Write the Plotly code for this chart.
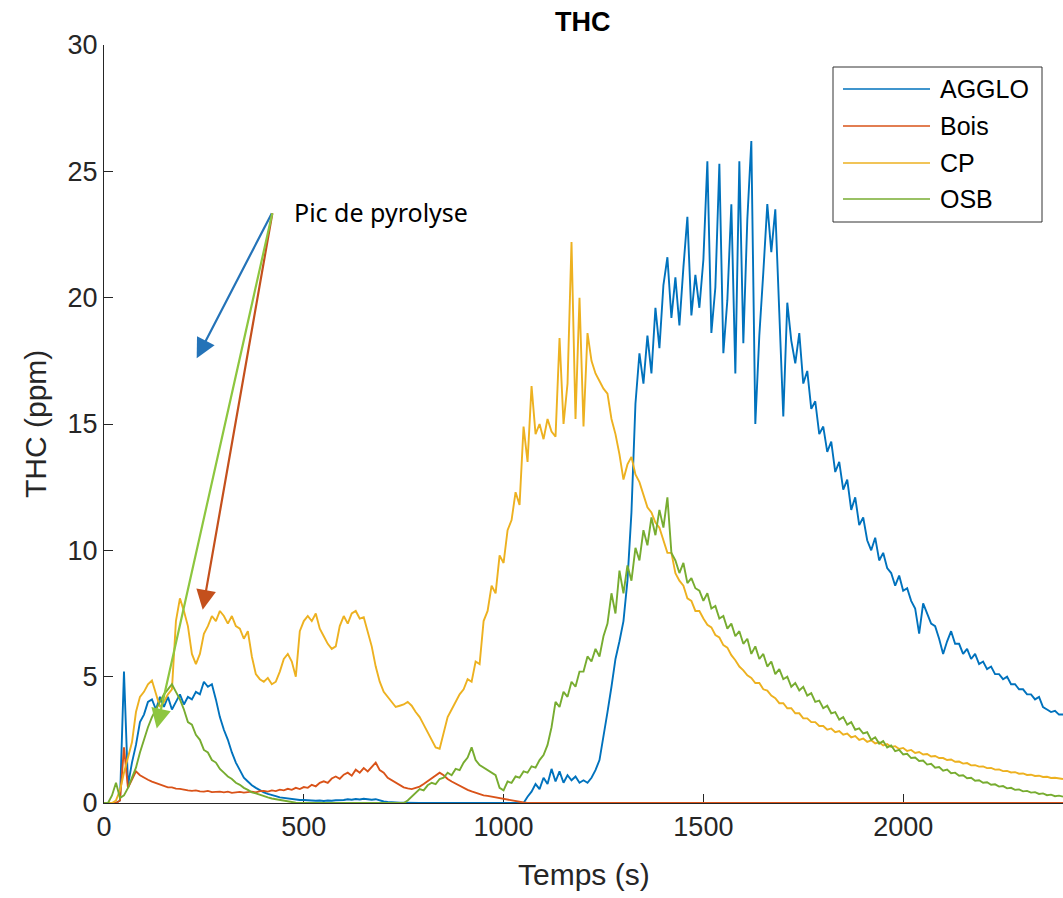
import plotly.graph_objects as go

# Time axis (s), one sample every 10 s
temps = list(range(0, 2401, 10))

agglo = [
    0, 0, 0, 0, 0.1, 5.2, 0.7, 1.6, 2.3, 3.2,
    3.5, 4.0, 4.1, 3.7, 4.2, 3.8, 4.2, 3.7, 4.0, 4.3,
    3.9, 4.2, 4.1, 4.4, 4.3, 4.8, 4.6, 4.7, 4.1, 3.4,
    2.9, 2.5, 2.0, 1.6, 1.3, 1.0, 0.85, 0.7, 0.6, 0.5,
    0.42, 0.36, 0.3, 0.27, 0.22, 0.2, 0.17, 0.15, 0.14, 0.12,
    0.12, 0.1, 0.11, 0.09, 0.1, 0.08, 0.1, 0.09, 0.11, 0.1,
    0.12, 0.15, 0.13, 0.16, 0.14, 0.17, 0.15, 0.13, 0.15, 0.1,
    0.06, 0.04, 0.02, 0.02, 0.01, 0.01, 0, 0, 0, 0,
    0, 0, 0, 0, 0, 0, 0, 0, 0, 0,
    0, 0, 0, 0, 0, 0, 0, 0, 0, 0,
    0, 0, 0, 0, 0, 0, 0.25, 0.45, 0.75, 0.55,
    1.0, 0.75, 1.35, 0.85, 1.25, 0.8, 1.1, 0.9, 1.05, 0.8,
    0.9, 0.8, 1.0, 1.3, 1.7, 2.6, 3.6, 4.6, 5.7, 6.4,
    7.2, 8.8, 11.5, 15.8, 17.8, 16.6, 18.5, 17.0, 19.6, 18.0,
    20.5, 21.6, 19.2, 20.8, 18.9, 21.2, 23.2, 19.3, 20.9, 19.6,
    21.5, 25.4, 18.6, 20.4, 25.3, 17.8, 19.9, 23.7, 17.0, 25.4,
    18.2, 23.1, 26.2, 15.0, 18.5, 21.0, 23.7, 21.8, 23.5, 19.4,
    15.3, 19.8, 18.3, 17.4, 18.6, 16.6, 17.1, 15.6, 15.9, 14.6,
    14.9, 13.9, 14.3, 13.1, 13.5, 12.4, 12.8, 11.6, 12.1, 11.0,
    11.3, 10.4, 10.0, 10.5, 9.6, 9.9, 9.3, 9.1, 8.6, 9.0,
    8.4, 8.5, 8.0, 7.7, 6.7, 7.9, 7.5, 7.1, 7.0, 6.5,
    5.9, 6.4, 6.8, 6.3, 6.3, 5.9, 6.1, 5.7, 5.9, 5.5,
    5.6, 5.3, 5.4, 5.1, 5.1, 4.9, 5.0, 4.7, 4.7, 4.5,
    4.5, 4.3, 4.3, 4.1, 4.2, 3.8, 3.7, 3.6, 3.65, 3.5,
    3.5,
]

bois = [
    0, 0, 0, 0, 0.1, 2.2, 0.6, 0.9, 1.25, 1.1,
    1.0, 0.92, 0.85, 0.8, 0.72, 0.7, 0.62, 0.62, 0.57, 0.56,
    0.52, 0.5, 0.48, 0.5, 0.46, 0.45, 0.48, 0.43, 0.44, 0.45,
    0.42, 0.45, 0.4, 0.43, 0.44, 0.41, 0.44, 0.45, 0.42, 0.47,
    0.48, 0.45, 0.5, 0.47, 0.53, 0.5, 0.56, 0.52, 0.6, 0.55,
    0.63, 0.6, 0.72, 0.66, 0.8, 0.86, 0.8, 0.97, 1.05, 0.96,
    1.12, 1.2, 1.08, 1.32, 1.2, 1.38, 1.25, 1.42, 1.6, 1.3,
    1.2, 1.0, 0.9, 0.8, 0.7, 0.62, 0.58, 0.55, 0.6, 0.65,
    0.75, 0.86, 1.0, 1.1, 1.2, 1.1, 0.95, 0.85, 0.76, 0.7,
    0.6, 0.52, 0.46, 0.4, 0.35, 0.3, 0.28, 0.25, 0.2, 0.2,
    0.15, 0.12, 0.1, 0.08, 0.05, 0.02, 0, 0, 0, 0,
    0, 0, 0, 0, 0, 0, 0, 0, 0, 0,
    0, 0, 0, 0, 0, 0, 0, 0, 0, 0,
    0, 0, 0, 0, 0, 0, 0, 0, 0, 0,
    0, 0, 0, 0, 0, 0, 0, 0, 0, 0,
    0, 0, 0, 0, 0, 0, 0, 0, 0, 0,
    0, 0, 0, 0, 0, 0, 0, 0, 0, 0,
    0, 0, 0, 0, 0, 0, 0, 0, 0, 0,
    0, 0, 0, 0, 0, 0, 0, 0, 0, 0,
    0, 0, 0, 0, 0, 0, 0, 0, 0, 0,
    0, 0, 0, 0, 0, 0, 0, 0, 0, 0,
    0, 0, 0, 0, 0, 0, 0, 0, 0, 0,
    0, 0, 0, 0, 0, 0, 0, 0, 0, 0,
    0, 0, 0, 0, 0, 0, 0, 0, 0, 0,
    0,
]

cp = [
    0, 0, 0, 0.1, 0.5, 1.2, 1.8, 2.4, 3.6, 4.2,
    4.4, 4.7, 4.85, 4.3, 3.8, 4.0, 4.3, 4.5, 7.2, 8.1,
    7.6, 7.0, 5.9, 5.5, 5.9, 6.7, 7.0, 7.4, 7.2, 7.6,
    7.4, 7.1, 7.4, 7.0, 6.9, 6.5, 6.8, 5.8, 5.1, 4.9,
    4.8, 4.95, 4.7, 4.8, 5.2, 5.7, 5.9, 5.6, 5.0, 6.8,
    7.2, 7.4, 7.2, 7.5, 6.9, 6.6, 6.3, 6.1, 6.2, 7.0,
    7.4, 7.1, 7.5, 7.6, 7.3, 7.35, 6.8, 6.2, 5.4, 4.8,
    4.4, 4.2, 4.0, 3.8, 3.85, 3.9, 4.0, 3.85, 3.6, 3.4,
    3.1, 2.8, 2.5, 2.2, 2.15, 2.8, 3.4, 3.7, 4.0, 4.3,
    4.5, 4.9, 4.8, 5.6, 5.5, 7.2, 7.6, 8.6, 8.3, 9.8,
    9.5, 10.8, 11.2, 12.3, 11.8, 14.9, 13.5, 16.5, 14.6, 15.0,
    14.4, 15.2, 14.7, 14.5, 18.4, 15.0, 16.6, 22.2, 15.2, 20.0,
    14.9, 18.6, 17.5, 17.0, 16.7, 16.4, 16.2, 15.2, 14.6, 13.8,
    12.8, 13.4, 13.7, 13.0, 12.7, 12.2, 11.7, 11.5, 11.1, 10.9,
    10.4, 9.9, 9.9, 9.1, 8.8, 8.6, 8.1, 8.0, 7.6, 7.6,
    7.3, 7.05, 6.95, 6.65, 6.55, 6.25, 6.15, 5.85, 5.65, 5.4,
    5.25, 5.05, 4.95, 4.75, 4.75, 4.5, 4.45, 4.25, 4.15, 3.95,
    3.95, 3.75, 3.75, 3.55, 3.55, 3.35, 3.35, 3.2, 3.2, 3.05,
    3.05, 2.9, 2.95, 2.8, 2.85, 2.7, 2.75, 2.6, 2.65, 2.5,
    2.55, 2.42, 2.48, 2.36, 2.4, 2.28, 2.33, 2.22, 2.25, 2.14,
    2.18, 2.06, 2.1, 1.98, 2.02, 1.92, 1.94, 1.84, 1.86, 1.78,
    1.78, 1.7, 1.72, 1.63, 1.64, 1.56, 1.58, 1.49, 1.5, 1.44,
    1.45, 1.38, 1.39, 1.32, 1.33, 1.26, 1.27, 1.21, 1.22, 1.16,
    1.17, 1.11, 1.12, 1.07, 1.08, 1.03, 1.04, 0.99, 1.0, 0.96,
    0.95,
]

osb = [
    0, 0, 0.3, 0.8, 0.2, 0.3, 0.6, 1.0, 1.4, 2.0,
    2.5, 3.0, 3.4, 3.7, 4.0, 4.3, 4.5, 4.7, 4.4, 4.1,
    3.7, 3.2, 3.1, 2.7, 2.5, 2.1, 2.0, 1.7, 1.6, 1.35,
    1.2, 1.05, 0.95, 0.8, 0.72, 0.6, 0.52, 0.42, 0.38, 0.32,
    0.27, 0.22, 0.18, 0.15, 0.12, 0.08, 0.05, 0.03, 0.01, 0,
    0, 0, 0, 0, 0, 0, 0, 0, 0, 0,
    0, 0, 0, 0, 0, 0, 0, 0, 0, 0,
    0, 0, 0, 0, 0, 0, 0.1, 0.25, 0.4, 0.55,
    0.5, 0.7, 0.8, 0.75, 0.95, 1.0, 1.2, 1.1, 1.35, 1.3,
    1.6, 1.8, 2.2, 1.7, 1.5, 1.4, 1.3, 1.2, 1.1, 0.6,
    0.5, 0.85, 0.8, 1.05, 1.0, 1.25, 1.2, 1.45, 1.4, 1.7,
    1.9, 2.3, 3.0, 4.0, 3.8, 4.4, 4.2, 4.8, 4.6, 5.2,
    5.2, 5.8, 5.6, 6.1, 5.8, 6.6, 7.1, 8.3, 7.5, 9.2,
    8.3, 9.4, 8.8, 10.1, 9.6, 10.8, 10.2, 11.3, 10.6, 11.6,
    10.9, 12.1, 9.9, 9.6, 9.1, 9.5, 8.7, 8.9, 8.5, 8.4,
    8.0, 8.3, 7.7, 7.8, 7.3, 7.4, 6.9, 7.1, 6.6, 6.8,
    6.3, 6.5, 5.9, 6.2, 5.7, 5.9, 5.4, 5.6, 5.1, 5.3,
    4.9, 5.0, 4.6, 4.75, 4.45, 4.6, 4.25, 4.35, 4.0, 4.05,
    3.75, 3.85, 3.55, 3.6, 3.3, 3.4, 3.1, 3.2, 2.9, 2.95,
    2.75, 2.8, 2.5, 2.6, 2.35, 2.45, 2.2, 2.28, 2.05, 2.1,
    1.92, 1.95, 1.78, 1.8, 1.66, 1.68, 1.52, 1.55, 1.4, 1.42,
    1.28, 1.32, 1.18, 1.2, 1.08, 1.1, 0.98, 1.0, 0.88, 0.9,
    0.8, 0.82, 0.72, 0.74, 0.65, 0.67, 0.58, 0.6, 0.52, 0.54,
    0.46, 0.48, 0.41, 0.43, 0.36, 0.38, 0.31, 0.33, 0.27, 0.29,
    0.25,
]

series_names = ["AGGLO", "Bois", "CP", "OSB"]
series_values = [agglo, bois, cp, osb]
series_colors = ["#0072BD", "#D95319", "#EDB120", "#77AC30"]

# "Pic de pyrolyse" arrows: tail (t, ppm) and tips (t, ppm, colour)
arrow_tail = (422, 23.4)
arrow_tips = [(232, 17.6, "#2473B8"), (247, 7.65, "#C4501C"), (132, 2.95, "#8DC63F")]

W, H = 1063, 898
L, R, T, B = 104, 0, 45, 95
PW, PH = W - L - R, H - T - B

def px2paper(x, y):
    return (x - L) / PW, (H - B - y) / PH

fig = go.Figure()
for name, vals, col in zip(series_names, series_values, series_colors):
    fig.add_trace(go.Scatter(x=temps, y=vals, mode="lines", name=name,
                             line=dict(color=col, width=1.9), showlegend=False))

tickfont = dict(family="Liberation Sans, Arial, sans-serif", size=27, color="#262626")
axis_common = dict(showline=True, linecolor="#262626", linewidth=1, ticks="inside",
                   ticklen=9, tickwidth=1, tickcolor="#262626", showgrid=False,
                   zeroline=False, mirror=False, tickfont=tickfont, layer="below traces")

annotations = []
shapes = []

# arrows
for tx, ty, col in arrow_tips:
    annotations.append(dict(x=tx, y=ty, ax=arrow_tail[0], ay=arrow_tail[1],
                            xref="x", yref="y", axref="x", ayref="y", text="",
                            showarrow=True, arrowhead=2, arrowsize=1.8, arrowwidth=2.2,
                            arrowcolor=col, standoff=0, startstandoff=0))
annotations.append(dict(x=470, y=23.4, xref="x", yref="y", text="Pic de pyrolyse",
                        showarrow=False, xanchor="left", yanchor="middle",
                        font=dict(family="Noto Sans, Open Sans, sans-serif", size=25, color="#000000")))

# axis titles
ax_, ay_ = px2paper(35, 424)
annotations.append(dict(x=ax_, y=ay_, xref="paper", yref="paper", text="THC (ppm)",
                        textangle=-90, showarrow=False, xanchor="center", yanchor="middle",
                        font=dict(family="Liberation Sans, Arial, sans-serif", size=30, color="#262626")))
bx_, by_ = px2paper(584, 874)
annotations.append(dict(x=bx_, y=by_, xref="paper", yref="paper", text="Temps (s)",
                        showarrow=False, xanchor="center", yanchor="middle",
                        font=dict(family="Liberation Sans, Arial, sans-serif", size=30, color="#262626")))
# title
tx_, ty_ = px2paper(583, 22)
annotations.append(dict(x=tx_, y=ty_, xref="paper", yref="paper", text="<b>THC</b>",
                        showarrow=False, xanchor="center", yanchor="middle",
                        font=dict(family="Liberation Sans, Arial, sans-serif", size=27, color="#000000")))

# custom legend (MATLAB style, long line samples)
x0, y0 = px2paper(833, 67)
x1, y1 = px2paper(1042, 222)
shapes.append(dict(type="rect", xref="paper", yref="paper", x0=x0, y0=y1, x1=x1, y1=y0,
                   line=dict(color="#333333", width=1), fillcolor="white", layer="above"))
rows_px = [89, 126, 163, 199]
for name, col, ry in zip(series_names, series_colors, rows_px):
    lx0, ly = px2paper(843, ry)
    lx1, _ = px2paper(930, ry)
    shapes.append(dict(type="line", xref="paper", yref="paper", x0=lx0, x1=lx1, y0=ly, y1=ly,
                       line=dict(color=col, width=1.5), layer="above"))
    tx2, _ = px2paper(938, ry)
    annotations.append(dict(x=tx2, y=ly, xref="paper", yref="paper", text=name,
                            showarrow=False, xanchor="left", yanchor="middle",
                            font=dict(family="Liberation Sans, Arial, sans-serif", size=25, color="#000000")))

fig.update_layout(
    width=W, height=H,
    margin=dict(l=L, r=R, t=T, b=B, pad=0),
    paper_bgcolor="white", plot_bgcolor="white",
    xaxis=dict(range=[0, 2400], tickvals=[0, 500, 1000, 1500, 2000], **axis_common),
    yaxis=dict(range=[0, 30], tickvals=[0, 5, 10, 15, 20, 25, 30], **axis_common),
    annotations=annotations, shapes=shapes, showlegend=False,
)

fig.write_html("out.html")
